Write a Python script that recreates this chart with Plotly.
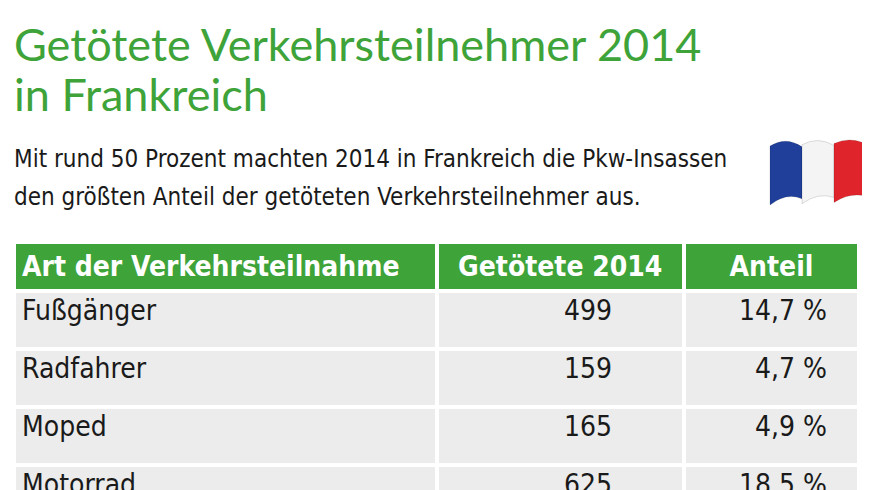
import plotly.graph_objects as go

W, H = 870, 490
GREEN = "#3ea339"

title_lines = ["Getötete Verkehrsteilnehmer 2014", "in Frankreich"]
subtitle_lines = ["Mit rund 50 Prozent machten 2014 in Frankreich die Pkw-Insassen",
                  "den größten Anteil der getöteten Verkehrsteilnehmer aus."]
headers = ["Art der Verkehrsteilnahme", "Getötete 2014", "Anteil"]
kinds = ["Fußgänger", "Radfahrer", "Moped", "Motorrad"]
killed = [499, 159, 165, 625]
shares = ["14,7 %", "4,7 %", "4,9 %", "18,5 %"]


def px(x):
    return x / W


def py(y):
    return 1 - y / H


fig = go.Figure()

fig.add_trace(go.Table(
    domain=dict(x=[px(6), px(851)], y=[0, py(234)]),
    columnwidth=[420, 246, 174],
    header=dict(
        values=[f"<b>{h}</b>" for h in headers],
        fill_color=GREEN,
        font=dict(color="white", size=28, family="DejaVu Sans Condensed"),
        align=["left", "center", "center"],
        height=48,
        line=dict(color="white", width=4),
    ),
    cells=dict(
        values=[kinds, [f"{v}        " for v in killed], [f"{s}   " for s in shares]],
        fill_color="#ececec",
        font=dict(color="#1a1a1a", size=28, family="DejaVu Sans Condensed"),
        align=["left", "right", "right"],
        height=58,
        line=dict(color="white", width=4),
    ),
))

for i, t in enumerate(title_lines):
    fig.add_annotation(text=t, x=px(4), y=py(36 + i * 50), xref="paper", yref="paper",
                       xanchor="left", yanchor="middle", showarrow=False,
                       font=dict(size=45, color=GREEN, family="Lato"))
for i, t in enumerate(subtitle_lines):
    fig.add_annotation(text=t, x=px(4), y=py(151 + i * 38), xref="paper", yref="paper",
                       xanchor="left", yanchor="middle", showarrow=False,
                       font=dict(size=24, color="#1a1a1a", family="DejaVu Sans Condensed"))

# wavy French flag
def band(x0, x1, c):
    path = (f"M {px(x0)} {py(138 - (x0 - 762) * 0.04)} "
            f"Q {px((x0 + x1) / 2)} {py(128)} {px(x1)} {py(140 - (x1 - 762) * 0.04)} "
            f"L {px(x1)} {py(192 - (x1 - 762) * 0.04)} "
            f"Q {px((x0 + x1) / 2)} {py(184)} {px(x0)} {py(197 - (x0 - 762) * 0.04)} Z")
    fig.add_shape(type="path", path=path, xref="paper", yref="paper",
                  fillcolor=c, line=dict(color="rgba(0,0,0,0.25)", width=0.5))

band(762, 794, "#1f3f9a")
band(794, 826, "#f4f4f4")
band(826, 858, "#e0242b")

fig.update_layout(width=W, height=H, margin=dict(l=0, r=0, t=0, b=0),
                  paper_bgcolor="white", plot_bgcolor="white")
fig.write_html("out.html")
